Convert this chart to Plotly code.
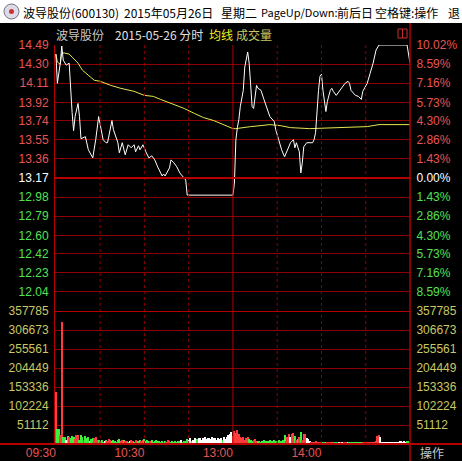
import plotly.graph_objects as go

# ---------------- data ----------------
title_parts = ["波导股份(600130)", "2015年05月26日", "星期二", "PageUp/Down:", "前后日", "空格键:操作", "退"]
title_x = [22, 123, 220, 260, 336, 374, 447]
title_size = [12, 12, 12, 11, 12, 12, 12]
stock_name = "波导股份"
date_text = "2015-05-26 分时"
prev_close = 13.17

price_ticks = [12.04, 12.23, 12.42, 12.60, 12.79, 12.98, 13.17,
               13.36, 13.55, 13.74, 13.92, 14.11, 14.30, 14.49]
pct_labels = ["8.59%", "7.16%", "5.73%", "4.30%", "2.86%", "1.43%", "0.00%",
              "1.43%", "2.86%", "4.30%", "5.73%", "7.16%", "8.59%", "10.02%"]
vol_ticks = [51112, 102224, 153336, 204449, 255561, 306673, 357785]
time_pos = [0, 60, 120, 180]
time_labels = ["09:30", "10:30", "13:00", "14:00"]
half_hours = [30, 60, 90, 120, 150, 180, 210]

price_min = [0, 1, 3, 4, 5, 7, 9, 10, 11, 12, 13, 15, 16, 17, 20, 22, 25, 27, 29, 32,
             34, 35, 38, 39, 42, 43, 45, 47, 49, 51, 53, 54, 56, 57, 59, 61, 63, 65, 67, 69,
             70, 72, 73, 74, 77, 78, 80, 82, 84, 87, 88, 89, 120, 121, 122, 123, 124, 125, 127, 128,
             130, 131, 132, 133, 134, 135, 136, 137, 139, 141, 143, 145, 148, 149, 151, 153, 155, 157, 159, 161,
             162, 163, 165, 166, 167, 168, 170, 174, 175, 176, 177, 178, 179, 180, 181, 182, 183, 184, 186, 187,
             188, 190, 191, 194, 196, 198, 199, 200, 203, 205, 207, 208, 211, 213, 215, 217, 219, 238, 239, 240]
price_vals = [14.40, 14.11, 14.31, 14.48, 14.34, 14.29, 14.31, 14.04, 13.82, 13.64, 13.78, 13.91, 13.78, 13.56, 13.58, 13.45, 13.37, 13.55, 13.78, 13.55,
              13.52, 13.52, 13.74, 13.65, 13.52, 13.42, 13.52, 13.40, 13.50, 13.47, 13.50, 13.43, 13.49, 13.45, 13.50, 13.43, 13.37, 13.39, 13.35, 13.28,
              13.25, 13.19, 13.21, 13.19, 13.27, 13.35, 13.32, 13.28, 13.22, 13.17, 13.15, 13.00, 13.00, 13.12, 13.55, 13.67, 13.75, 13.88, 14.04, 14.27,
              14.42, 14.31, 14.04, 13.88, 13.86, 13.99, 14.09, 14.06, 14.04, 13.95, 13.86, 13.78, 13.73, 13.65, 13.55, 13.45, 13.38, 13.45, 13.52, 13.55,
              13.47, 13.52, 13.43, 13.22, 13.32, 13.48, 13.52, 13.52, 13.55, 13.62, 13.85, 14.04, 14.18, 14.20, 14.04, 13.91, 13.83, 13.93, 14.04, 14.06,
              14.03, 13.99, 14.01, 14.08, 14.11, 14.13, 14.11, 14.04, 13.99, 13.98, 13.95, 14.03, 14.11, 14.21, 14.31, 14.44, 14.49, 14.49, 14.39, 14.31]

avg_min = [0, 1, 3, 4, 6, 9, 11, 15, 18, 23, 26, 30, 37, 44, 53, 60, 66, 71, 78, 87,
           94, 100, 107, 114, 120, 122, 126, 132, 139, 145, 152, 159, 172, 192, 211, 219, 240]
avg_vals = [14.40, 14.32, 14.30, 14.41, 14.41, 14.40, 14.37, 14.31, 14.24, 14.18, 14.14, 14.13, 14.09, 14.06, 14.03, 13.99, 13.98, 13.95, 13.91, 13.86,
            13.81, 13.77, 13.74, 13.70, 13.66, 13.66, 13.67, 13.68, 13.69, 13.70, 13.69, 13.67, 13.66, 13.67, 13.68, 13.70, 13.70]

volumes = [140000, 41000, 40000, 24000, 327000, 18000, 20000, 12000, 22000, 18000,
           15000, 22000, 19000, 14000, 23000, 25000, 12000, 24000, 20000, 11000,
           21000, 16000, 18000, 9000, 14000, 17000, 15000, 20000, 12000, 10000,
           8000, 12000, 6000, 9000, 11000, 7000, 14000, 10000, 8000, 12000,
           9000, 6000, 11000, 13000, 7000, 10000, 12000, 8000, 9000, 6000,
           7000, 10000, 8000, 6000, 11000, 9000, 7000, 12000, 8000, 10000,
           13000, 9000, 11000, 8000, 7000, 10000, 6000, 9000, 12000, 8000,
           8000, 6000, 9000, 5000, 7000, 6000, 10000, 8000, 5000, 7000,
           6000, 9000, 5000, 8000, 7000, 10000, 6000, 8000, 9000, 14000,
           12000, 16000, 7000, 10000, 15000, 8000, 13000, 17000, 15000, 11000,
           16000, 18000, 14000, 17000, 16000, 13000, 18000, 15000, 17000, 12000,
           16000, 14000, 17000, 11000, 18000, 13000, 20000, 24000, 27000, 31000,
           22000, 34000, 29000, 38000, 26000, 20000, 16000, 18000, 12000, 15000,
           20000, 14000, 12000, 9000, 11000, 13000, 8000, 7000, 9000, 6000,
           8000, 10000, 7000, 9000, 8000, 10000, 7000, 9000, 11000, 8000,
           9000, 10000, 7000, 8000, 12000, 24000, 9000, 18000, 27000, 20000,
           26000, 30000, 22000, 12000, 14000, 20000, 32000, 12000, 28000, 27000,
           16000, 14000, 9000, 5000, 4000, 6000, 7000, 5000, 6000, 4000,
           5000, 3000, 4000, 6000, 3000, 5000, 4000, 3000, 5000, 4000,
           3000, 4000, 5000, 3000, 6000, 4000, 3000, 5000, 4000, 3000,
           4000, 5000, 3000, 6000, 4000, 3000, 5000, 4000, 3000, 4000,
           5000, 4000, 6000, 5000, 4000, 6000, 5000, 7000, 21000, 23000,
           18000, 3000, 4000, 3000, 3000, 4000, 3000, 4000, 3000, 3000,
           4000, 5000, 4000, 9000, 8000, 5000, 9000, 4000, 7000, 8000, 6000]

# +1 up tick, -1 down tick, 0 unchanged
vol_dir = [1, -1, -1, 1, 1, -1, -1, 0, -1, 1,
           -1, -1, -1, 1, 1, 1, -1, -1, -1, 1,
           -1, -1, -1, 0, -1, -1, 1, 1, 1, -1,
           -1, -1, -1, 0, -1, 1, 1, 1, -1, -1,
           -1, -1, -1, -1, 1, 1, -1, 1, 1, -1,
           0, 1, 1, -1, 1, 1, -1, -1, 1, 1,
           -1, -1, -1, -1, 1, -1, -1, -1, -1, -1,
           -1, -1, -1, 1, -1, 1, 1, 1, -1, -1,
           -1, -1, -1, -1, -1, 0, -1, -1, -1, -1,
           0, 0, -1, 0, 0, 0, -1, 0, 0, 0,
           0, 0, 0, 0, 0, 0, 0, 0, 0, 0,
           0, 0, 0, -1, 0, 0, 0, 0, 0, 0,
           1, 1, 1, 1, 1, 1, 1, 1, 1, 1,
           1, -1, -1, -1, 1, 1, 1, -1, -1, -1,
           -1, -1, -1, -1, -1, -1, -1, -1, -1, -1,
           -1, -1, -1, -1, -1, -1, 1, 1, 1, 0,
           1, 1, -1, 1, -1, 1, -1, 1, 1, 1,
           0, 0, 0, 1, 1, 1, 1, 1, 1, 1,
           1, -1, -1, -1, 1, 1, 1, -1, 1, -1,
           -1, 1, 0, 1, 0, 1, 1, 1, 0, -1,
           -1, -1, -1, -1, -1, -1, -1, -1, 1, 1,
           1, 1, 1, 1, 1, 1, 1, 1, 1, 1,
           0, 0, 0, 0, 0, 0, 0, 0, 0, 0,
           0, 0, 0, 0, 0, 0, 0, 0, -1, -1, -1]

# ---------------- styling ----------------
W, H = 462, 461
L, R, T, B = 55, 52, 45, 17
PW = W - L - R
PH = H - T - B
split = 133 / PH
X_LO, X_HI = -0.6, 240

def px_x(x):
    return (x - L) / PW

def px_y(y):
    return (H - B - y) / PH

UP = "#ff3c3c"
DOWN = "#3cf03c"
FLAT = "#ffffff"
TXT_UP = "#e85454"
TXT_DN = "#54e054"
GRID = "#8c0000"
GRID2 = "#b40000"
VOLTXT = "#c8c864"
FONT = "Liberation Sans, Arial, sans-serif"
CJK = "Noto Sans CJK SC, sans-serif"

limit = max(price_ticks) - prev_close
p_lo, p_hi = prev_close - limit, prev_close + limit

def pcol(v):
    if v > prev_close + 1e-9:
        return TXT_UP
    if v < prev_close - 1e-9:
        return TXT_DN
    return "#ffffff"

left_txt = [f"<span style='color:{pcol(v)}'>{v:.2f}</span>" for v in price_ticks]
right_txt = [f"<span style='color:{pcol(v)}'>{t}</span>" for v, t in zip(price_ticks, pct_labels)]
dir_color = {1: UP, -1: DOWN, 0: FLAT}
bar_colors = [dir_color[d] for d in vol_dir]
minutes = list(range(len(volumes)))

fig = go.Figure()
fig.add_trace(go.Bar(x=minutes, y=volumes, width=0.75,
                     marker=dict(color=bar_colors, line=dict(width=0)),
                     xaxis="x", yaxis="y3", showlegend=False))
# companion (invisible) traces so the right-hand axes get drawn
fig.add_trace(go.Bar(x=minutes, y=volumes, width=0.75, opacity=0,
                     marker=dict(color="rgba(0,0,0,0)", line=dict(width=0)),
                     xaxis="x", yaxis="y4", showlegend=False))
fig.add_trace(go.Scatter(x=price_min, y=price_vals, mode="lines",
                         line=dict(color="rgba(0,0,0,0)", width=0),
                         xaxis="x", yaxis="y2", showlegend=False))
fig.add_trace(go.Scatter(x=avg_min, y=avg_vals, mode="lines",
                         line=dict(color="#e6e650", width=1),
                         xaxis="x", yaxis="y", showlegend=False))
fig.add_trace(go.Scatter(x=price_min, y=price_vals, mode="lines",
                         line=dict(color="#ffffff", width=1),
                         xaxis="x", yaxis="y", showlegend=False))

axfont = dict(family=FONT, size=12)
fig.update_layout(
    width=W, height=H, autosize=False,
    margin=dict(l=L, r=R, t=T, b=B, pad=0),
    paper_bgcolor="#000000", plot_bgcolor="#000000",
    showlegend=False, hovermode=False, bargap=0, barmode="overlay",
    xaxis=dict(domain=[0, 1], range=[X_LO, X_HI], anchor="y3",
               tickvals=time_pos, ticktext=time_labels,
               ticklabelposition="outside left", ticks="", ticklen=0,
               tickfont=dict(axfont, color=TXT_UP),
               showgrid=False, zeroline=False, showline=False, automargin=False),
    yaxis=dict(domain=[split, 1], range=[p_lo, p_hi], anchor="x", side="left",
               tickvals=price_ticks, ticktext=left_txt, tickfont=axfont,
               ticks="outside", ticklen=3, tickcolor="rgba(0,0,0,0)",
               showgrid=True, gridcolor=GRID, gridwidth=1, zeroline=False,
               showline=True, linecolor=GRID2, linewidth=1, automargin=False),
    yaxis2=dict(overlaying="y", range=[p_lo, p_hi], anchor="x", side="right",
                tickvals=price_ticks, ticktext=right_txt, tickfont=axfont,
                ticks="outside", ticklen=3, tickcolor="rgba(0,0,0,0)",
                showgrid=False, zeroline=False, showline=False, automargin=False),
    yaxis3=dict(domain=[0, split], range=[0, max(vol_ticks)], anchor="x", side="left",
                tickvals=vol_ticks, ticktext=[str(v) for v in vol_ticks],
                tickfont=dict(axfont, color=VOLTXT),
                ticks="outside", ticklen=3, tickcolor="rgba(0,0,0,0)",
                showgrid=True, gridcolor=GRID, gridwidth=1, zeroline=False,
                showline=True, linecolor=GRID2, linewidth=1, automargin=False),
    yaxis4=dict(overlaying="y3", range=[0, max(vol_ticks)], anchor="x", side="right",
                tickvals=vol_ticks, ticktext=[str(v) for v in vol_ticks],
                tickfont=dict(axfont, color=VOLTXT),
                ticks="outside", ticklen=3, tickcolor="rgba(0,0,0,0)",
                showgrid=False, zeroline=False, showline=False, automargin=False),
)

shapes = []
# white title bar
shapes.append(dict(type="rect", xref="paper", yref="paper",
                   x0=px_x(-2), x1=px_x(W + 2), y0=px_y(23), y1=px_y(-2),
                   fillcolor="#ffffff", line=dict(width=0), layer="below"))
# title icon
shapes.append(dict(type="circle", xref="paper", yref="paper",
                   x0=px_x(4), x1=px_x(19), y0=px_y(19), y1=px_y(4),
                   fillcolor="#dcdce8", line=dict(color="#707080", width=1)))
shapes.append(dict(type="circle", xref="paper", yref="paper",
                   x0=px_x(9), x1=px_x(14), y0=px_y(14), y1=px_y(9),
                   fillcolor="#d03030", line=dict(width=0)))
# half-hour verticals
for m in half_hours:
    shapes.append(dict(type="line", xref="x", yref="paper", x0=m, x1=m, y0=0, y1=1,
                       line=dict(color=GRID2 if m == 120 else GRID, width=1,
                                 dash="solid" if m == 120 else "dot")))
# previous-close line and panel separator
shapes.append(dict(type="line", xref="paper", yref="y", x0=0, x1=1, y0=prev_close, y1=prev_close,
                   line=dict(color=GRID2, width=2)))
shapes.append(dict(type="line", xref="paper", yref="y3", x0=0, x1=1,
                   y0=max(vol_ticks), y1=max(vol_ticks), line=dict(color=GRID2, width=2)))
# bottom baseline across full width
shapes.append(dict(type="line", xref="paper", yref="paper", x0=px_x(0), x1=px_x(W), y0=0, y1=0,
                   line=dict(color=GRID2, width=2)))
# right border (full height below title)
shapes.append(dict(type="line", xref="paper", yref="paper", x0=1, x1=1, y0=px_y(H), y1=px_y(23),
                   line=dict(color=GRID2, width=1.5)))
# small window button
shapes.append(dict(type="rect", xref="paper", yref="paper",
                   x0=px_x(398), x1=px_x(407), y0=px_y(38), y1=px_y(29),
                   line=dict(color="#c83030", width=1)))
shapes.append(dict(type="line", xref="paper", yref="paper",
                   x0=px_x(402.5), x1=px_x(402.5), y0=px_y(38), y1=px_y(29),
                   line=dict(color="#c83030", width=1)))
fig.update_layout(shapes=shapes)

ann = []
for txt, xp, fs in zip(title_parts, title_x, title_size):
    ann.append(dict(text=txt, xref="paper", yref="paper", x=px_x(xp), y=px_y(12),
                    xanchor="left", yanchor="middle", showarrow=False, borderpad=0,
                    font=dict(family=CJK, size=fs, color="#000000")))
ann.append(dict(text=stock_name, xref="paper", yref="paper", x=px_x(54), y=px_y(35),
                xanchor="left", yanchor="middle", showarrow=False,
                font=dict(family=CJK, size=12, color="#c8c8c8")))
ann.append(dict(text=date_text, xref="paper", yref="paper", x=px_x(113), y=px_y(35),
                xanchor="left", yanchor="middle", showarrow=False,
                font=dict(family=CJK, size=12, color="#e0e0e0")))
ann.append(dict(text="均线", xref="paper", yref="paper", x=px_x(207), y=px_y(35),
                xanchor="left", yanchor="middle", showarrow=False,
                font=dict(family=CJK, size=12, color="#f0f020")))
ann.append(dict(text="成交量", xref="paper", yref="paper", x=px_x(234), y=px_y(35),
                xanchor="left", yanchor="middle", showarrow=False,
                font=dict(family=CJK, size=12, color=VOLTXT)))
ann.append(dict(text="操作", xref="paper", yref="paper", x=px_x(432), y=px_y(452),
                xanchor="center", yanchor="middle", showarrow=False,
                font=dict(family=CJK, size=12, color="#c8c8c8")))
fig.update_layout(annotations=ann)

fig.write_html("out.html", config={"displayModeBar": False},
               post_script="document.body.style.margin='0';document.body.style.overflow='hidden';")
